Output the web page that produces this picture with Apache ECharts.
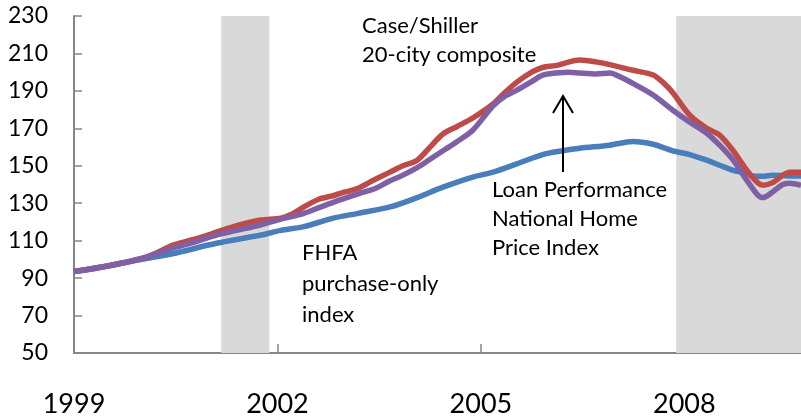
<!DOCTYPE html>
<html>
<head>
<meta charset="utf-8">
<script src="https://cdn.jsdelivr.net/npm/echarts@6/dist/echarts.min.js"></script>
<style>
html,body{margin:0;padding:0;background:#fff;}
#chart{width:801px;height:419px;}
</style>
</head>
<body>
<div id="chart"></div>
<script>
// Year-fraction positions and index values
const caseShillerX = [1999.0,1999.5,2000.0,2000.25,2000.45,2000.75,2001.1,2001.4,2001.75,2002.05,2002.2,2002.39,2002.6,2002.82,2003.0,2003.19,2003.4,2003.66,2003.85,2004.06,2004.25,2004.44,2004.65,2004.88,2005.18,2005.35,2005.53,2005.75,2005.91,2006.1,2006.46,2006.7,2006.9,2007.24,2007.54,2007.7,2007.83,2008.08,2008.33,2008.52,2008.72,2008.92,2009.08,2009.16,2009.3,2009.55,2009.72];
const caseShillerY = [93.5,96.5,100.5,104,107.5,110.5,114.5,118,121,122,124,128,132,134,136,138,142,146.6,150,153,160,167,171,175.5,183,189,194.7,200,202.5,203.5,206.5,205.5,204,201,198.5,194,189,177,170,166.4,158,147.6,141,139.6,141,146.6,146.6];

const loanPerfX = [1999.0,1999.5,2000.0,2000.45,2000.75,2001.1,2001.4,2001.76,2002.05,2002.39,2002.6,2002.82,2003.19,2003.45,2003.66,2003.85,2004.06,2004.25,2004.44,2004.65,2004.88,2005.18,2005.35,2005.53,2005.75,2005.91,2006.1,2006.3,2006.46,2006.7,2006.9,2007.05,2007.24,2007.54,2007.83,2008.08,2008.33,2008.52,2008.72,2008.92,2009.08,2009.16,2009.3,2009.45,2009.55,2009.72];
const loanPerfY = [93.5,96.5,100.5,106,109,113,115.5,118.5,121.5,124.6,127.5,130.5,135,138,142,145,149,153.5,158,163,169,182,187,190.4,195,198.4,199.5,200,199.5,199,199.5,197.5,194,187.8,179.7,173.3,167.4,161,153,142.3,134.5,133,136,140,140.7,139.6];

const fhfaX = [1999.0,1999.5,2000.0,2000.45,2001.1,2001.76,2002.05,2002.39,2002.82,2003.19,2003.66,2004.06,2004.44,2004.88,2005.18,2005.53,2005.91,2006.2,2006.46,2006.9,2007.24,2007.54,2007.83,2008.08,2008.33,2008.52,2008.72,2008.92,2009.0,2009.16,2009.3,2009.55,2009.72];
const fhfaY = [93.5,96.5,100,103,108.6,113,115.5,117.5,122,124.6,128,133,138.6,144,146.6,151,156,158,159.4,161,163,161.5,158,156,153,150.3,147.6,146,144.5,144.4,145,144.5,144.5];

const recessions = [[2001.17, 2001.88], [2007.88, 2009.72]];
const yTicks = {min: 50, max: 230, step: 20};
const xTicks = {min: 1999, max: 2009.72, step: 3};

const zip = (xs, ys) => xs.map((x, i) => [x, ys[i]]);

const chart = echarts.init(document.getElementById('chart'), null, {renderer: 'canvas'});
const FONT = 'Lato, "Open Sans", sans-serif';
const gray = '#868686';

chart.setOption({
  animation: false,
  backgroundColor: '#fff',
  grid: {left: 74, right: 0, top: 16, bottom: 66, containLabel: false},
  xAxis: {
    type: 'value', min: xTicks.min, max: xTicks.max, interval: xTicks.step,
    axisLine: {show: true, lineStyle: {color: gray, width: 2}},
    axisTick: {show: true, inside: true, length: 9, lineStyle: {color: gray, width: 1.5}},
    splitLine: {show: false},
    axisLabel: {
      margin: 38, fontSize: 27, color: '#000', fontFamily: FONT, showMaxLabel: false,
      formatter: v => (Math.abs(v - Math.round(v)) < 1e-6 ? String(Math.round(v)) : '')
    }
  },
  yAxis: {
    type: 'value', min: yTicks.min, max: yTicks.max, interval: yTicks.step,
    axisLine: {show: true, lineStyle: {color: gray, width: 2}},
    axisTick: {show: true, inside: true, length: 8, lineStyle: {color: gray, width: 1.5}},
    splitLine: {show: false},
    axisLabel: {margin: 26, fontSize: 23, color: '#000', fontFamily: FONT}
  },
  series: [
    {
      type: 'line', data: [], z: 1, silent: true,
      markArea: {
        silent: true,
        itemStyle: {color: '#d9d9d9'},
        data: recessions.map(r => [{xAxis: r[0]}, {xAxis: r[1]}])
      }
    },
    {
      name: 'FHFA', type: 'line', z: 3, data: zip(fhfaX, fhfaY), showSymbol: false, smooth: 0.3,
      lineStyle: {color: '#4A7EBB', width: 5.5}
    },
    {
      name: 'Case/Shiller', type: 'line', z: 4, data: zip(caseShillerX, caseShillerY), showSymbol: false, smooth: 0.3,
      lineStyle: {color: '#BE4B48', width: 5.5}
    },
    {
      name: 'LoanPerformance', type: 'line', z: 5, data: zip(loanPerfX, loanPerfY), showSymbol: false, smooth: 0.3,
      lineStyle: {color: '#7F60A6', width: 5.5}
    }
  ],
  graphic: [
    {type: 'text', left: 362, top: 11, z: 10,
     style: {text: 'Case/Shiller\n20-city composite', font: '22px ' + FONT, lineHeight: 29, fill: '#000'}},
    {type: 'text', left: 492, top: 175, z: 10,
     style: {text: 'Loan Performance\nNational Home\nPrice Index', font: '22px ' + FONT, lineHeight: 29, fill: '#000'}},
    {type: 'text', left: 302, top: 237, z: 10,
     style: {text: 'FHFA\npurchase-only\nindex', font: '22px ' + FONT, lineHeight: 31, fill: '#000'}},
    {type: 'line', z: 10, shape: {x1: 563, y1: 172, x2: 563, y2: 96}, style: {stroke: '#000', lineWidth: 2}},
    {type: 'polyline', z: 10, shape: {points: [[553, 113], [563, 96], [573, 113]]}, style: {stroke: '#000', lineWidth: 2, fill: null}}
  ]
});
</script>
</body>
</html>
